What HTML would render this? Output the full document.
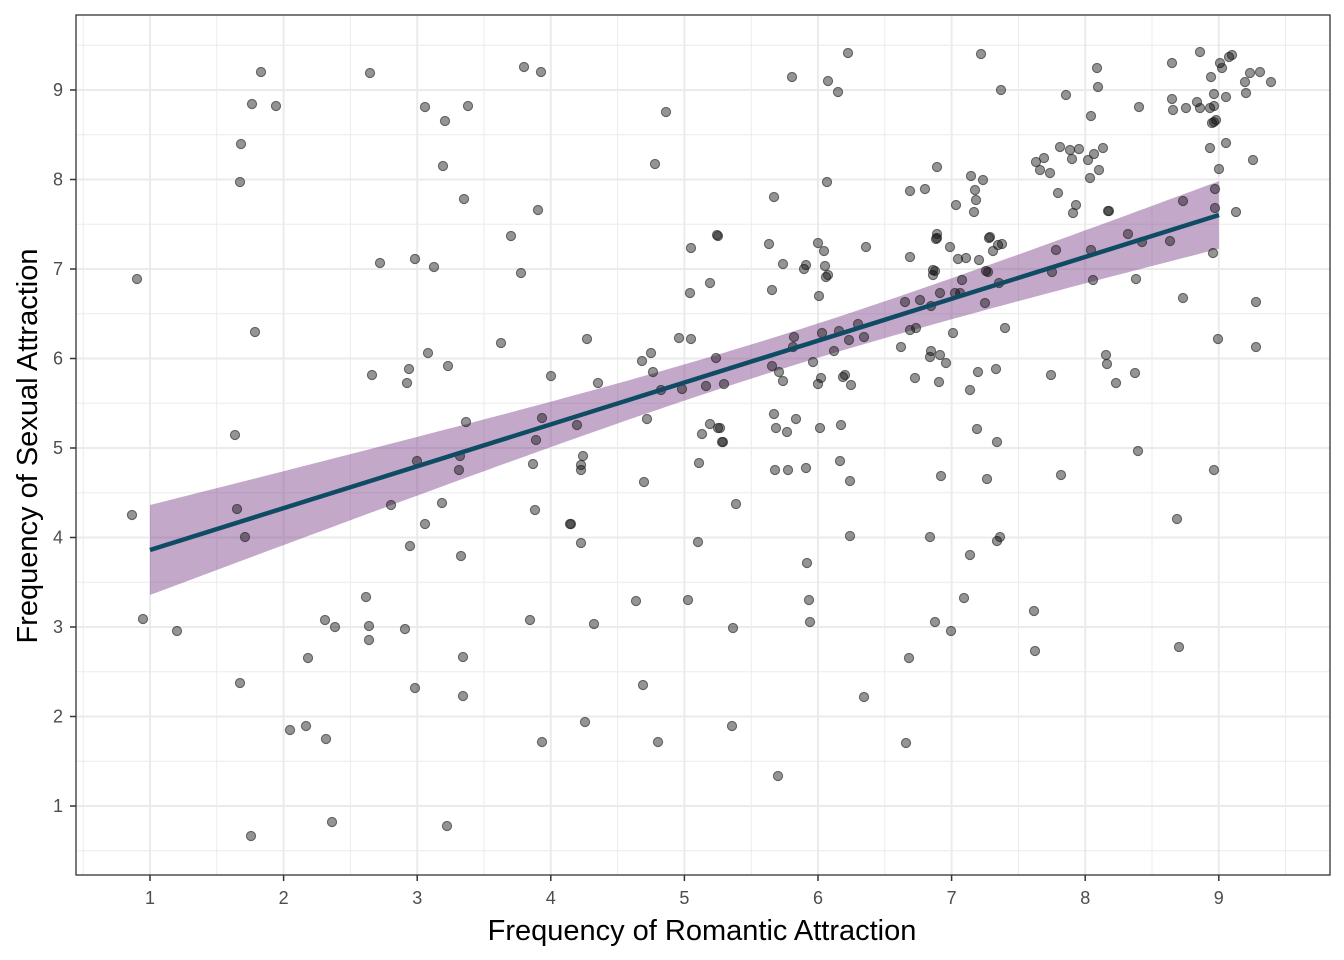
<!DOCTYPE html>
<html><head><meta charset="utf-8"><style>
html,body{margin:0;padding:0;background:#fff;}
svg{display:block;font-family:"Liberation Sans",sans-serif;}
</style></head><body>
<svg id="s" width="1344" height="960" xmlns="http://www.w3.org/2000/svg">
<rect x="0" y="0" width="1344" height="960" fill="#fff"/>
<g id="grid"></g>
<path id="band" fill="#7b3f8a" fill-opacity="0.45"/>
<g id="pts"></g>
<line id="reg" stroke="#0f4c64" stroke-width="4.5" stroke-linecap="butt"/>
<rect x="76" y="15" width="1254" height="860" fill="none" stroke="#333" stroke-width="1.3"/>
<g id="ticks" fill="#4d4d4d" font-size="18"></g>
<text x="702" y="940" text-anchor="middle" font-size="29" fill="#000">Frequency of Romantic Attraction</text>
<text transform="translate(37,446) rotate(-90)" text-anchor="middle" font-size="29" fill="#000">Frequency of Sexual Attraction</text>
</svg>
<script>
(function(){
const NS="http://www.w3.org/2000/svg";
function X(u){return 150+(u-1)*133.6;}
function Y(v){return 806-(v-1)*89.5;}
function el(t,a,p){const e=document.createElementNS(NS,t);for(const k in a)e.setAttribute(k,a[k]);p.appendChild(e);return e;}
const g=document.getElementById('grid'),tk=document.getElementById('ticks');
for(let u=0.5;u<=9.6;u+=0.5){const x=X(u);if(x<76||x>1330)continue;const maj=Math.abs(u-Math.round(u))<1e-6;
 el('line',{x1:x,x2:x,y1:15,y2:875,stroke:'#ebebeb','stroke-width':maj?2:1},g);}
for(let v=0.5;v<=9.6;v+=0.5){const y=Y(v);if(y<15||y>875)continue;const maj=Math.abs(v-Math.round(v))<1e-6;
 el('line',{x1:76,x2:1330,y1:y,y2:y,stroke:'#ebebeb','stroke-width':maj?2:1},g);}
for(let i=1;i<=9;i++){const x=X(i),y=Y(i);
 el('line',{x1:x,x2:x,y1:875,y2:881,stroke:'#333','stroke-width':1.5},tk);
 el('line',{x1:70,x2:76,y1:y,y2:y,stroke:'#333','stroke-width':1.5},tk);
 let t=el('text',{x:x,y:904,'text-anchor':'middle'},tk);t.textContent=i;
 t=el('text',{x:63,y:y+6,'text-anchor':'end'},tk);t.textContent=i;}
function ly(u){return 550-(u-1)*(335/8);}
function hw(u){return Math.sqrt(289+78.6*(u-5.7)*(u-5.7));}
let upper=[],lower=[];
for(let u=1;u<=9.0001;u+=0.1){upper.push(X(u).toFixed(1)+','+(ly(u)-hw(u)).toFixed(1));lower.unshift(X(u).toFixed(1)+','+(ly(u)+hw(u)).toFixed(1));}
document.getElementById('band').setAttribute('d','M'+upper.join('L')+'L'+lower.join('L')+'Z');
const r=document.getElementById('reg');r.setAttribute('x1',150);r.setAttribute('y1',ly(1));r.setAttribute('x2',1219);r.setAttribute('y2',ly(9));
const P=[[132,515],[137,279],[143,619],[177,631],[235,435],[237,509],[240,182],[241,144],[245,537],[240,683],[252,104],[255,332],[261,72],[276,106],[251,836],[290,730],[306,726],[308,658],[325,620],[326,739],[335,627],[332,822],[366,597],[369,626],[369,640],[372,375],[370,73],[380,263],[391,505],[405,629],[407,383],[409,369],[410,546],[415,259],[415,688],[417,461],[425,107],[425,524],[428,353],[434,267],[443,166],[445,121],[448,366],[442,503],[447,826],[459,470],[460,456],[461,556],[463,657],[463,696],[464,199],[466,422],[468,106],[501,343],[511,236],[521,273],[524,67],[530,620],[533,464],[535,510],[536,440],[538,210],[541,72],[542,418],[542,742],[551,376],[570,524],[571,524],[577,425],[581,470],[581,465],[581,543],[583,456],[585,722],[587,339],[594,624],[598,383],[636,601],[643,685],[642,361],[644,482],[647,419],[651,353],[653,372],[655,164],[658,742],[661,390],[666,112],[679,338],[682,389],[688,600],[690,293],[691,248],[691,339],[698,542],[699,463],[702,434],[706,386],[710,283],[710,424],[717,235],[718,428],[716,358],[718,236],[720,428],[722,442],[723,442],[724,384],[732,726],[733,628],[736,504],
[769,244],[772,290],[772,366],[774,414],[774,197],[775,470],[776,428],[778,776],[779,372],[783,381],[783,264],[787,432],[788,470],[792,77],[793,347],[794,337],[796,419],[804,269],[806,468],[806,265],[807,563],[809,600],[810,622],[813,362],[818,384],[818,243],[819,296],[820,428],[821,378],[822,333],[824,251],[825,266],[826,277],[827,182],[828,81],[828,275],[834,351],[838,92],[839,331],[840,461],[841,425],[843,377],[845,375],[849,340],[850,481],[850,536],[851,385],[848,53],[858,324],[864,337],[864,697],[866,247],[901,347],[905,302],[906,743],[909,658],[910,191],[910,257],[910,330],[915,378],[916,328],[920,300],[925,189],[930,537],[933,270],[930,357],[931,351],[931,306],[933,275],[935,271],[937,167],[935,622],[936,239],[937,238],[940,355],[939,382],[940,293],[941,476],[937,234],[946,363],[950,247],[951,631],[953,333],[955,293],[956,205],[958,259],[960,293],[962,280],[964,598],[966,258],[970,555],[970,390],[971,176],[974,212],[975,190],[976,200],[977,429],[978,372],[979,260],[981,54],[983,180],[985,303],[986,271],[987,479],[988,272],[989,238],[990,237],[993,251],[996,369],[997,442],[997,541],[998,245],[999,283],[1000,537],[1001,90],[1002,244],[1005,328],
[1034,611],[1035,651],[1036,162],[1040,170],[1044,158],[1050,173],[1051,375],[1052,272],[1056,250],[1058,193],[1061,475],[1060,147],[1066,95],[1070,150],[1072,159],[1073,213],[1076,205],[1079,149],[1088,160],[1090,178],[1091,116],[1091,250],[1093,280],[1094,154],[1098,87],[1097,68],[1099,170],[1103,148],[1106,355],[1107,364],[1108,211],[1109,211],[1116,383],[1128,234],[1135,373],[1136,279],[1138,451],[1139,107],[1142,242],[1172,63],[1172,99],[1173,110],[1170,241],[1177,519],[1179,647],[1183,201],[1183,298],[1186,108],[1197,102],[1200,52],[1200,108],[1210,108],[1210,148],[1211,77],[1212,123],[1214,94],[1214,106],[1214,122],[1215,189],[1213,253],[1216,120],[1214,470],[1218,339],[1220,63],[1222,68],[1226,97],[1226,143],[1229,57],[1232,55],[1236,212],[1246,93],[1250,73],[1253,160],[1256,302],[1256,347],[1260,72],[1271,82],[1245,82],[1215,208],[1219,169]];
const pg=document.getElementById('pts');
P.forEach(p=>el('circle',{cx:p[0],cy:p[1],r:4.6,fill:'#000','fill-opacity':0.42,stroke:'#222','stroke-opacity':0.6,'stroke-width':1.1},pg));
})();
</script>
</body></html>
